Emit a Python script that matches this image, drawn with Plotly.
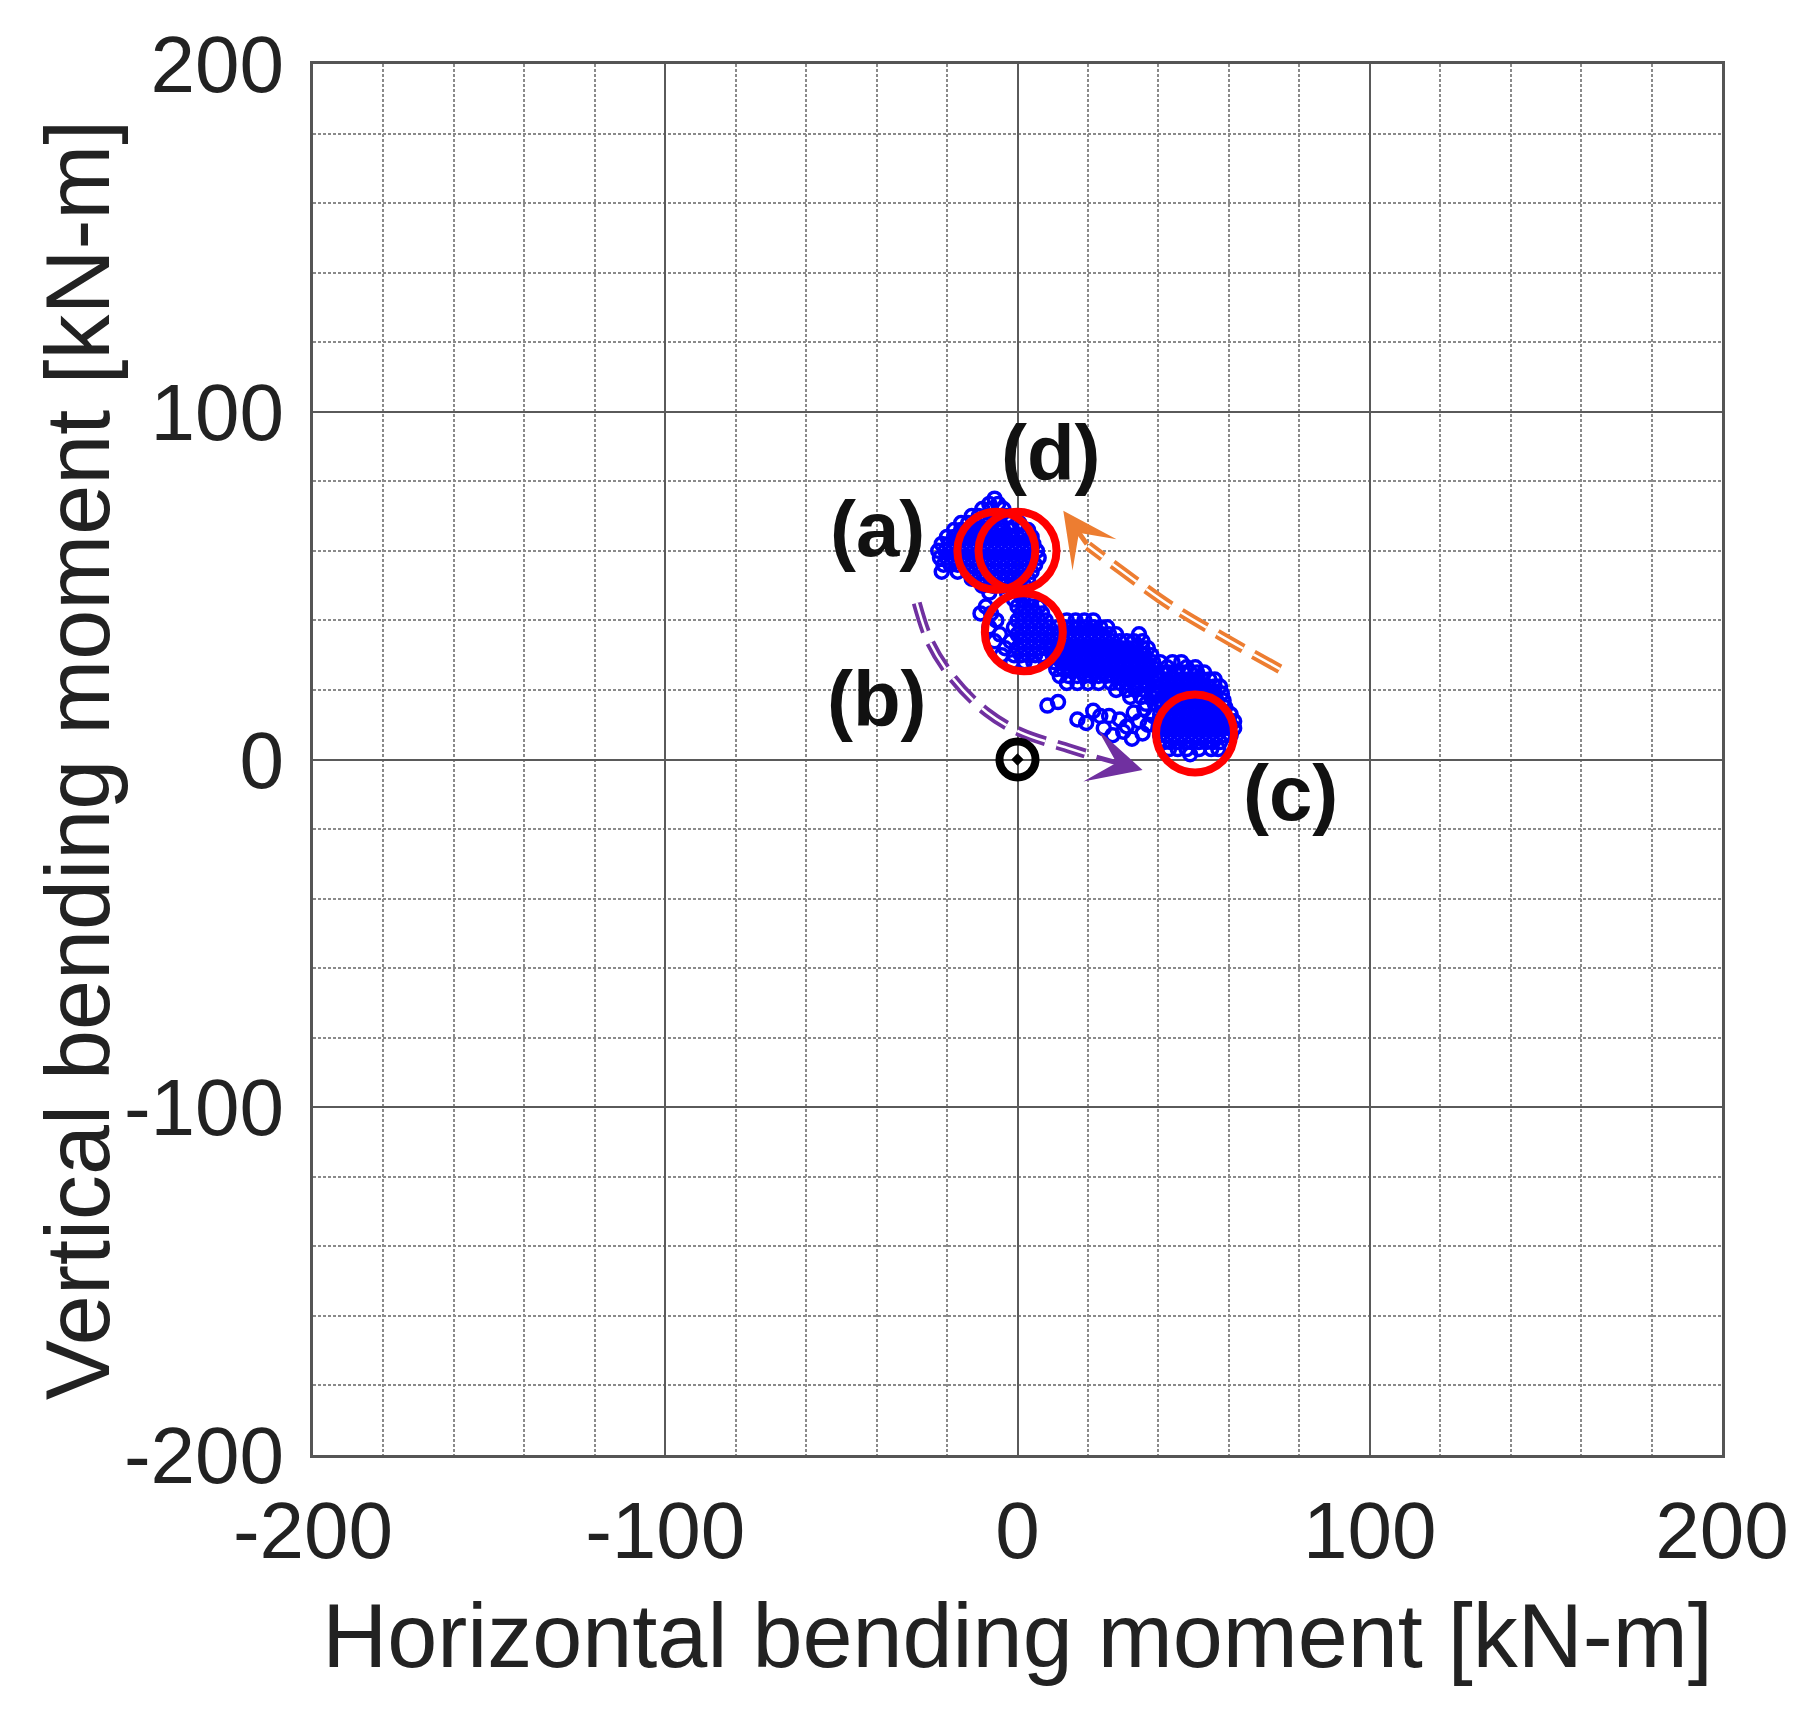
import plotly.graph_objects as go

# ---- data (kN-m) ----
# scatter cloud, stored as rows: vertical moment -> horizontal moments
cluster_a_rows = {
    75: [-6.5],
    73.5: [-8, -5.5],
    72: [-10, -7.5, -4],
    70: [-13, -11, -9, -6, -3],
    68: [-16, -14, -12, -10, -8, -5, -2, 0.5],
    66: [-18, -16, -14, -12, -10, -8, -6, -4, -1.5, 1, 3],
    64: [-20, -18, -16, -14, -12, -10, -8, -6, -4, -2, 0, 2, 4],
    62: [-21.5, -19.5, -17.5, -15.5, -13.5, -11.5, -9.5, -7.5, -5.5, -3.5, -1.5, 0.5, 2.5, 4.5],
    60: [-22.5, -20.5, -18.5, -16.5, -14.5, -12.5, -10.5, -8.5, -6.5, -4.5, -2.5, -0.5, 1.5, 3.5, 5.5],
    58: [-22, -20, -18, -16, -14, -12, -10, -8, -6, -4, -2, 0, 2, 4, 6],
    56: [-21, -19, -17, -15, -13, -11, -9, -7, -5, -3, -1, 1, 3, 5],
    54: [-21.5, -17, -14, -12, -10, -8, -6, -4, -2, 0, 2, 4],
    52: [-13, -11, -9, -7, -5, -3, -1, 1, 3],
    50: [-10, -7, -4, -1, 2],
    48: [-8, -3, 0.5],
}
cluster_b_rows = {
    46: [-1, 1.5, 4],
    44: [-9, 0, 2, 4, 6],
    42: [-10.5, -7.5, 1, 3, 5, 7],
    40: [-6, 0, 2, 4, 6, 8],
    38: [-8, -1, 1, 3, 5, 7, 9],
    36: [-5, 0, 2, 4, 6, 8, 10],
    34: [-6.5, -2, 1, 3, 5, 7, 9],
    32: [-3.5, 0, 2, 4, 6, 8],
    30: [-4.5, -1, 1, 3, 5, 7],
    28: [-1.5, 2, 4.5],
}
cluster_c_rows = {
    40: [14, 16.5, 19, 21.5],
    38: [11.5, 13.5, 15.5, 17.5, 19.5, 21.5, 23.5, 25.5],
    36: [10, 12, 14, 16, 18, 20, 22, 24, 26, 28, 34.5],
    34: [9, 11, 13, 15, 17, 19, 21, 23, 25, 27, 29, 31, 33, 35.5],
    32: [9.5, 11.5, 13.5, 15.5, 17.5, 19.5, 21.5, 23.5, 25.5, 27.5, 29.5, 31.5, 33.5, 35.5, 37],
    30: [10, 12, 14, 16, 18, 20, 22, 24, 26, 28, 30, 32, 34, 36, 38],
    28: [10.5, 12.5, 14.5, 16.5, 18.5, 20.5, 22.5, 24.5, 26.5, 28.5, 30.5, 32.5, 34.5, 36.5, 38.5, 40.5],
    26: [11, 13, 15, 17, 19, 21, 23, 25, 27, 29, 31, 33, 35, 37, 39],
    24: [12, 14.5, 17, 19, 21, 23, 25, 27, 29, 31, 33, 35, 37, 39],
    22: [14, 17, 20, 23, 26.5, 29, 31, 33, 35, 37, 39],
    20: [28, 31, 33.5, 36, 38.5],
    18: [32, 35, 38],
    16: [36.5, 39],
}
cluster_d_rows = {
    28: [44, 46.5],
    26.5: [42.5, 48, 50.5],
    25: [41, 43, 45, 47, 49, 51, 53],
    23: [40.5, 42.5, 44.5, 46.5, 48.5, 50.5, 52.5, 54.5, 56],
    21: [40, 42, 44, 46, 48, 50, 52, 54, 56, 57.5],
    19: [40, 42, 44, 46, 48, 50, 52, 54, 56, 58],
    17: [40.5, 42.5, 44.5, 46.5, 48.5, 50.5, 52.5, 54.5, 56.5, 58.5],
    15: [41, 43, 45, 47, 49, 51, 53, 55, 57, 59],
    13: [40.5, 42.5, 44.5, 46.5, 48.5, 50.5, 52.5, 54.5, 56.5, 58.5, 60.5],
    11: [40, 42, 44, 46, 48, 50, 52, 54, 56, 58, 60, 61.5],
    9: [40, 42, 44, 46, 48, 50, 52, 54, 56, 58, 60, 61.5],
    7: [40.5, 42.5, 44.5, 46.5, 48.5, 50.5, 52.5, 54.5, 56.5, 58.5, 60.5],
    5: [41.5, 43.5, 45.5, 47.5, 49.5, 51.5, 53.5, 55.5, 57.5],
    3: [43, 45.5, 48, 51.5, 55, 57],
    1.5: [49],
}
# loose points between the band and the right cluster
loose_h = [8.5, 11.5, 17, 21.5, 24.5, 29, 27, 32.5, 34.5, 31, 30, 37, 26, 33, 38.5, 35.5, 23.5, 19.5, 36]
loose_v = [15.5, 16.5, 11.5, 14, 9, 11.5, 7, 6, 11, 9.5, 8, 10, 12.5, 13.5, 12.5, 7.5, 12.5, 10.5, 14.5]

# highlighted states (a)-(d)
state_h = [-6, 0, 1.8, 50.4]
state_v = [60, 60, 36.6, 7.5]
label_text = ["(a)", "(b)", "(c)", "(d)"]
label_h = [-39.8, -39.8, 77.6, 9.4]
label_v = [66.2, 17.4, -9.5, 88.2]

# path arrows
purple_h = [-28.6, -24.8, -18.2, -8.7, 0.7, 14.9, 22]
purple_v = [45, 33.7, 23.2, 13.6, 7.9, 3.1, 0.8]
purple_tip = (35.5, -3)
orange_h = [74.5, 57.5, 43.3, 29, 20]
orange_v = [26, 35.7, 44.3, 54.7, 61.5]
orange_tip = (13, 71.5)

tick_vals = [-200, -100, 0, 100, 200]
tick_text = ["-200", "-100", "0", "100", "200"]

FONT = "Arial, Liberation Sans, sans-serif"

xs, ys = [], []
for rows in (cluster_a_rows, cluster_b_rows, cluster_c_rows, cluster_d_rows):
    for v, hs in rows.items():
        xs += hs
        ys += [v] * len(hs)
xs += loose_h
ys += loose_v

fig = go.Figure()

# dashed double-line arrows (colored dash with a thin white core)
for px_, py_, col in [(purple_h, purple_v, "#7030A0"), (orange_h, orange_v, "#ED7D31")]:
    fig.add_trace(go.Scatter(x=px_, y=py_, mode="lines", line_shape="spline",
                             line=dict(color=col, width=10, dash="30px,12px"),
                             hoverinfo="skip", showlegend=False))
    fig.add_trace(go.Scatter(x=px_, y=py_, mode="lines", line_shape="spline",
                             line=dict(color="white", width=2.5, dash="30px,12px"),
                             hoverinfo="skip", showlegend=False))

fig.add_trace(go.Scatter(
    x=xs, y=ys, mode="markers",
    marker=dict(symbol="circle-open", size=13, color="#0000FF", line=dict(width=3.5, color="#0000FF")),
    showlegend=False,
))

fig.add_trace(go.Scatter(
    x=state_h, y=state_v, mode="markers",
    marker=dict(symbol="circle-open", size=78, color="#FF0000", line=dict(width=8, color="#FF0000")),
    showlegend=False,
))

# origin marker
fig.add_trace(go.Scatter(
    x=[0], y=[0], mode="markers",
    marker=dict(symbol="circle-open-dot", size=36, color="black", line=dict(width=8, color="black")),
    showlegend=False,
))

for (tip, px_, py_, col) in [(purple_tip, purple_h, purple_v, "#7030A0"),
                             (orange_tip, orange_h, orange_v, "#ED7D31")]:
    fig.add_annotation(x=tip[0], y=tip[1], ax=px_[-1], ay=py_[-1], xref="x", yref="y",
                       axref="x", ayref="y", text="", showarrow=True, arrowhead=3,
                       arrowwidth=5, arrowsize=1.8, arrowcolor=col)

for t, lx, ly in zip(label_text, label_h, label_v):
    fig.add_annotation(x=lx, y=ly, text=f"<b>{t}</b>", showarrow=False,
                       font=dict(family=FONT, size=78, color="#111"))

# y-axis title as a rotated annotation so it can sit exactly where the reference has it
fig.add_annotation(x=-0.167, y=0.5, xref="paper", yref="paper", xanchor="center", yanchor="middle",
                   text="Vertical bending moment [kN-m]", textangle=-90, showarrow=False,
                   font=dict(family=FONT, size=90, color="#222"))

axis_common = dict(
    range=[-200, 200], tickvals=tick_vals, ticktext=tick_text, showgrid=True,
    gridcolor="#5a5a5a", gridwidth=2, zeroline=False,
    showline=True, mirror=True, linecolor="#555", linewidth=3,
    ticks="", tickfont=dict(family=FONT, size=80, color="#222"),
    minor=dict(dtick=20, showgrid=True, gridcolor="#8a8a8a", gridwidth=1.5, griddash="3px,2px"),
)

fig.update_xaxes(**axis_common, ticklabelstandoff=4,
                 title=dict(text="Horizontal bending moment [kN-m]",
                            font=dict(family=FONT, size=90, color="#222"), standoff=30))
fig.update_yaxes(**axis_common, ticklabelstandoff=10)

# page body has an 8px margin, so the figure is shifted by that amount
fig.update_layout(
    width=1803, height=1716, autosize=False,
    margin=dict(l=305, r=89, t=52, b=269),
    plot_bgcolor="white", paper_bgcolor="white",
)

fig.write_html("out.html")
